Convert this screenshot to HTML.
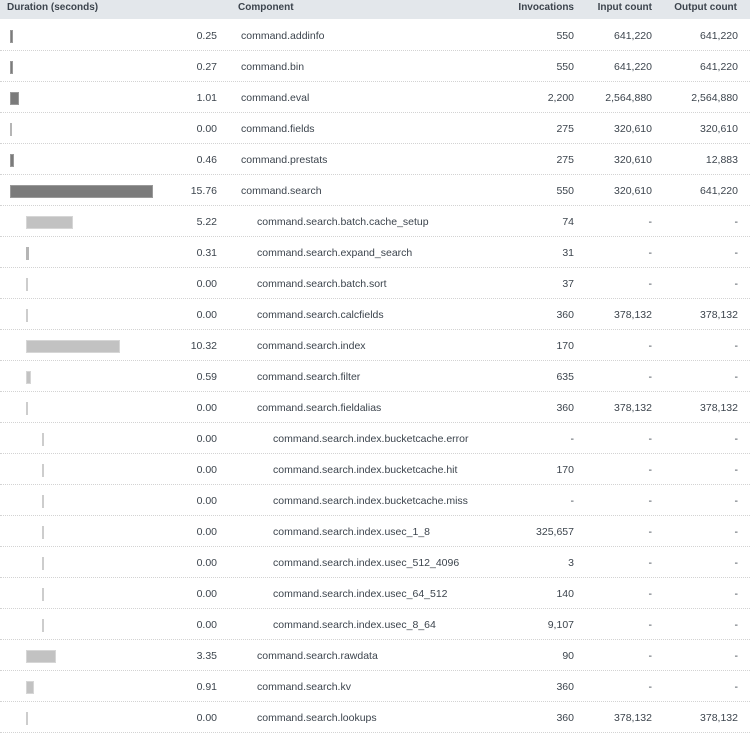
<!DOCTYPE html>
<html><head><meta charset="utf-8"><style>
html,body{margin:0;padding:0;background:#fff;}
#w{position:relative;width:750px;height:736px;overflow:hidden;font-family:"Liberation Sans",sans-serif;color:#3c444d;}
.hd{position:absolute;left:0;top:0;width:750px;height:19px;background:#e3e7eb;}
.h{position:absolute;top:0px;font-size:10px;font-weight:bold;line-height:15px;white-space:nowrap;color:#3c444d;}
.r{position:absolute;left:0;width:750px;height:30px;border-bottom:1px dotted #d3d3d3;font-size:10.5px;line-height:31px;}
.r span{position:absolute;top:1px;white-space:nowrap;}
.d{right:533px;text-align:right;}
.i{right:176px;text-align:right;}
.ic{right:98px;text-align:right;}
.oc{right:12px;text-align:right;}
.b{position:absolute;top:10px;height:13px;box-sizing:border-box;}
.b0{background:#7b7b7b;border:1px solid #9a9a9a;}
.b1{background:#c2c2c2;border:1px solid #d6d6d6;}
.z0{background:#b5b5b5;}
.z1{background:#cdcdcd;}
</style></head><body><div id="w">
<div class="hd"></div>
<div class="h" style="left:7px">Duration (seconds)</div>
<div class="h" style="left:238px">Component</div>
<div class="h" style="right:176px">Invocations</div>
<div class="h" style="right:98px">Input count</div>
<div class="h" style="right:13px">Output count</div>

<div class="r" style="top:20px"><div class="b b0" style="left:10px;width:3px"></div><span class="d">0.25</span><span style="left:241px">command.addinfo</span><span class="i">550</span><span class="ic">641,220</span><span class="oc">641,220</span></div>
<div class="r" style="top:51px"><div class="b b0" style="left:10px;width:3px"></div><span class="d">0.27</span><span style="left:241px">command.bin</span><span class="i">550</span><span class="ic">641,220</span><span class="oc">641,220</span></div>
<div class="r" style="top:82px"><div class="b b0" style="left:10px;width:9px"></div><span class="d">1.01</span><span style="left:241px">command.eval</span><span class="i">2,200</span><span class="ic">2,564,880</span><span class="oc">2,564,880</span></div>
<div class="r" style="top:113px"><div class="b z0" style="left:10px;width:2px"></div><span class="d">0.00</span><span style="left:241px">command.fields</span><span class="i">275</span><span class="ic">320,610</span><span class="oc">320,610</span></div>
<div class="r" style="top:144px"><div class="b b0" style="left:10px;width:4px"></div><span class="d">0.46</span><span style="left:241px">command.prestats</span><span class="i">275</span><span class="ic">320,610</span><span class="oc">12,883</span></div>
<div class="r" style="top:175px"><div class="b b0" style="left:10px;width:143px"></div><span class="d">15.76</span><span style="left:241px">command.search</span><span class="i">550</span><span class="ic">320,610</span><span class="oc">641,220</span></div>
<div class="r" style="top:206px"><div class="b b1" style="left:26px;width:47px"></div><span class="d">5.22</span><span style="left:257px">command.search.batch.cache_setup</span><span class="i">74</span><span class="ic">-</span><span class="oc">-</span></div>
<div class="r" style="top:237px"><div class="b z0" style="left:26px;width:3px"></div><span class="d">0.31</span><span style="left:257px">command.search.expand_search</span><span class="i">31</span><span class="ic">-</span><span class="oc">-</span></div>
<div class="r" style="top:268px"><div class="b z1" style="left:26px;width:2px"></div><span class="d">0.00</span><span style="left:257px">command.search.batch.sort</span><span class="i">37</span><span class="ic">-</span><span class="oc">-</span></div>
<div class="r" style="top:299px"><div class="b z1" style="left:26px;width:2px"></div><span class="d">0.00</span><span style="left:257px">command.search.calcfields</span><span class="i">360</span><span class="ic">378,132</span><span class="oc">378,132</span></div>
<div class="r" style="top:330px"><div class="b b1" style="left:26px;width:94px"></div><span class="d">10.32</span><span style="left:257px">command.search.index</span><span class="i">170</span><span class="ic">-</span><span class="oc">-</span></div>
<div class="r" style="top:361px"><div class="b b1" style="left:26px;width:5px"></div><span class="d">0.59</span><span style="left:257px">command.search.filter</span><span class="i">635</span><span class="ic">-</span><span class="oc">-</span></div>
<div class="r" style="top:392px"><div class="b z1" style="left:26px;width:2px"></div><span class="d">0.00</span><span style="left:257px">command.search.fieldalias</span><span class="i">360</span><span class="ic">378,132</span><span class="oc">378,132</span></div>
<div class="r" style="top:423px"><div class="b z1" style="left:42px;width:2px"></div><span class="d">0.00</span><span style="left:273px">command.search.index.bucketcache.error</span><span class="i">-</span><span class="ic">-</span><span class="oc">-</span></div>
<div class="r" style="top:454px"><div class="b z1" style="left:42px;width:2px"></div><span class="d">0.00</span><span style="left:273px">command.search.index.bucketcache.hit</span><span class="i">170</span><span class="ic">-</span><span class="oc">-</span></div>
<div class="r" style="top:485px"><div class="b z1" style="left:42px;width:2px"></div><span class="d">0.00</span><span style="left:273px">command.search.index.bucketcache.miss</span><span class="i">-</span><span class="ic">-</span><span class="oc">-</span></div>
<div class="r" style="top:516px"><div class="b z1" style="left:42px;width:2px"></div><span class="d">0.00</span><span style="left:273px">command.search.index.usec_1_8</span><span class="i">325,657</span><span class="ic">-</span><span class="oc">-</span></div>
<div class="r" style="top:547px"><div class="b z1" style="left:42px;width:2px"></div><span class="d">0.00</span><span style="left:273px">command.search.index.usec_512_4096</span><span class="i">3</span><span class="ic">-</span><span class="oc">-</span></div>
<div class="r" style="top:578px"><div class="b z1" style="left:42px;width:2px"></div><span class="d">0.00</span><span style="left:273px">command.search.index.usec_64_512</span><span class="i">140</span><span class="ic">-</span><span class="oc">-</span></div>
<div class="r" style="top:609px"><div class="b z1" style="left:42px;width:2px"></div><span class="d">0.00</span><span style="left:273px">command.search.index.usec_8_64</span><span class="i">9,107</span><span class="ic">-</span><span class="oc">-</span></div>
<div class="r" style="top:640px"><div class="b b1" style="left:26px;width:30px"></div><span class="d">3.35</span><span style="left:257px">command.search.rawdata</span><span class="i">90</span><span class="ic">-</span><span class="oc">-</span></div>
<div class="r" style="top:671px"><div class="b b1" style="left:26px;width:8px"></div><span class="d">0.91</span><span style="left:257px">command.search.kv</span><span class="i">360</span><span class="ic">-</span><span class="oc">-</span></div>
<div class="r" style="top:702px"><div class="b z1" style="left:26px;width:2px"></div><span class="d">0.00</span><span style="left:257px">command.search.lookups</span><span class="i">360</span><span class="ic">378,132</span><span class="oc">378,132</span></div>
</div></body></html>
